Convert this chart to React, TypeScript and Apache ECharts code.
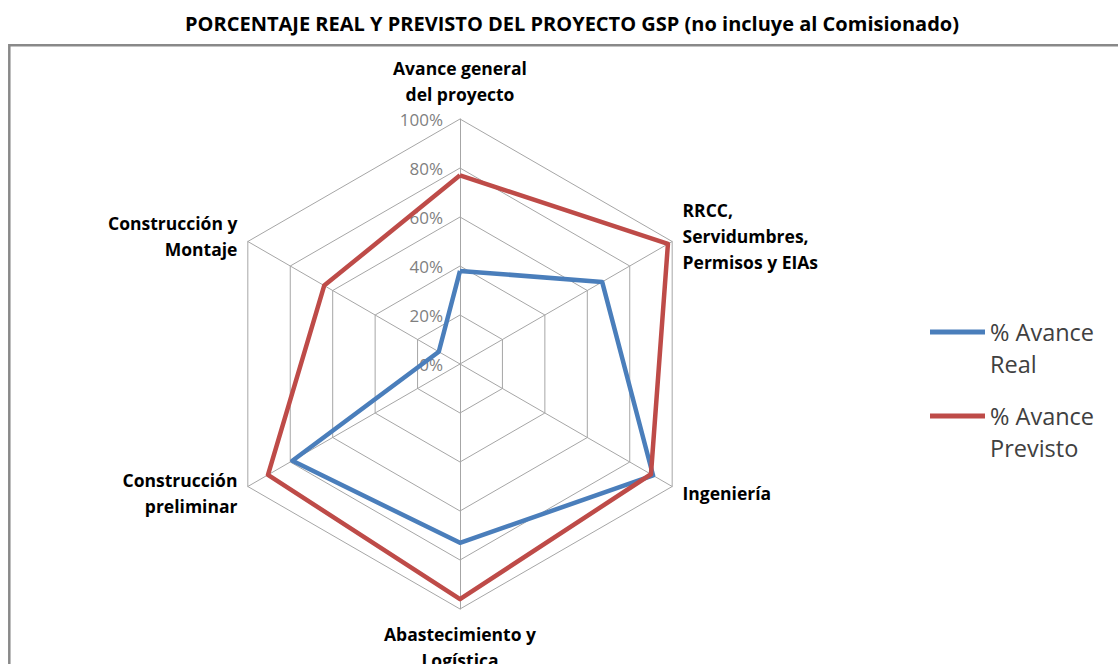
import React, { useEffect, useRef } from 'react';
import * as echarts from 'echarts';

const chartTitle = 'PORCENTAJE REAL Y PREVISTO DEL PROYECTO GSP (no incluye al Comisionado)';
// Categories in the clockwise order of the reference, starting at the top
const categories = [
  'Avance general\ndel proyecto',
  'RRCC,\nServidumbres,\nPermisos y EIAs',
  'Ingeniería',
  'Abastecimiento y\nLogística',
  'Construcción\npreliminar',
  'Construcción y\nMontaje',
];
const avanceReal = [38, 67, 91, 73, 79, 10];
const avancePrevisto = [77, 98, 90, 96, 90.5, 64];
const seriesNames = ['% Avance\nReal', '% Avance\nPrevisto'];
const seriesColors = ['#4A7EBB', '#BE4B48'];
const axisMax = 100;
const axisSplits = 5;

const FONT = '"Open Sans", Lato, sans-serif';

export default function App() {
  const ref = useRef<HTMLDivElement>(null);
  useEffect(() => {
    if (!ref.current) return;
    const chart = echarts.init(ref.current, null, { renderer: 'svg' });
    // ECharts lays indicators counter-clockwise; reorder to get clockwise
    const order = categories.map((_, i) => (i === 0 ? 0 : categories.length - i));
    const indicator = order.map((idx, k) => {
      const ind: any = { name: categories[idx], max: axisMax, min: 0 };
      if (k === 0) ind.axisLabel = { show: true };
      return ind;
    });
    const reorder = (arr: number[]) => order.map((i) => arr[i]);
    const legendIcon = 'path://M0 0H110V10H0Z M0 74H1Z';
    chart.setOption({
      animation: false,
      backgroundColor: '#ffffff',
      title: {
        text: chartTitle,
        left: 567,
        top: 8,
        textAlign: 'center',
        textStyle: { fontFamily: FONT, fontSize: 20, fontWeight: 'bold', color: '#000' },
      },
      graphic: [
        {
          type: 'rect',
          shape: { x: 9.3, y: 45.3, width: 1300, height: 800 },
          style: { fill: 'none', stroke: '#898989', lineWidth: 2.5 },
          silent: true,
          z: -1,
        },
      ],
      legend: {
        orient: 'vertical',
        left: 930,
        top: 316,
        padding: 0,
        itemGap: 20,
        itemWidth: 55,
        itemHeight: 37,
        icon: legendIcon,
        itemStyle: { borderWidth: 0 },
        textStyle: { fontFamily: FONT, fontSize: 23.5, color: '#404040', lineHeight: 32 },
        data: seriesNames,
      },
      radar: {
        center: [460, 364],
        radius: 245,
        startAngle: 90,
        shape: 'polygon',
        splitNumber: axisSplits,
        nameGap: 12,
        axisName: {
          fontFamily: FONT,
          fontSize: 17.5,
          fontWeight: 'bold',
          color: '#000',
          lineHeight: 26,
        },
        axisLine: { lineStyle: { color: '#A6A6A6', width: 1 } },
        splitLine: { lineStyle: { color: '#A6A6A6', width: 1 } },
        splitArea: { show: false },
        axisTick: { show: false },
        axisLabel: {
          show: false,
          formatter: '{value}%',
          fontFamily: FONT,
          fontSize: 17,
          color: '#7F7F7F',
          margin: 17,
        },
        indicator,
      },
      series: [
        {
          type: 'radar',
          symbol: 'none',
          data: [
            {
              name: seriesNames[0],
              value: reorder(avanceReal),
              lineStyle: { color: seriesColors[0], width: 4.5 },
              itemStyle: { color: seriesColors[0] },
            },
            {
              name: seriesNames[1],
              value: reorder(avancePrevisto),
              lineStyle: { color: seriesColors[1], width: 4.5 },
              itemStyle: { color: seriesColors[1] },
            },
          ],
        },
      ],
    });
    return () => chart.dispose();
  }, []);
  return (
    <div
      ref={ref}
      style={{ position: 'fixed', left: 0, top: 0, width: 1118, height: 664 }}
    />
  );
}
